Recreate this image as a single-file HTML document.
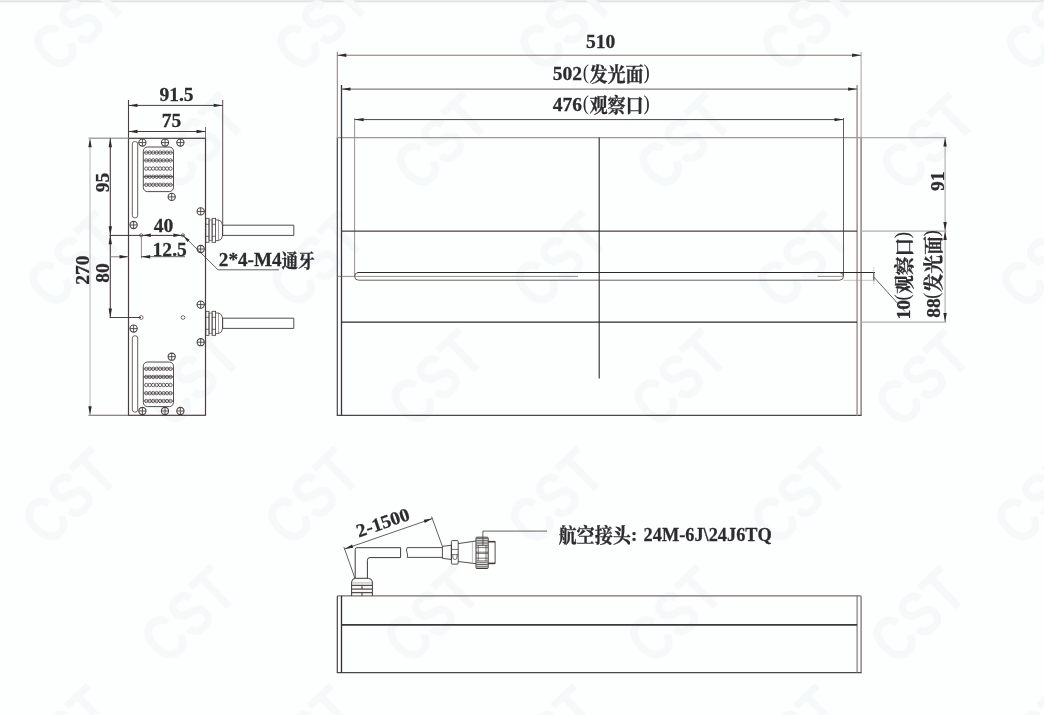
<!DOCTYPE html>
<html lang="zh"><head><meta charset="utf-8"><title>Dimension drawing</title>
<style>
html,body{margin:0;padding:0;background:#fdfefe;}
body{width:1044px;height:715px;overflow:hidden;position:relative;font-family:"Liberation Serif",serif;}
.topbar{position:absolute;left:0;top:0;width:1044px;height:4px;background:linear-gradient(#efefef,#e2e2e2 35%,#f4f5f5 60%,#fdfefe);}
svg{position:absolute;left:0;top:0;will-change:transform;}
</style></head><body>
<div class="topbar"></div>
<svg width="1044" height="715" viewBox="0 0 1044 715">
<g font-family="Liberation Sans, sans-serif" font-size="64" fill="#f5f9fa" font-weight="700">
<text transform="translate(-165.0 23.5) rotate(-44) scale(0.8 1)" text-anchor="middle" x="0.0" y="23.0" letter-spacing="0.0">CST</text>
<text transform="translate(78.0 23.5) rotate(-44) scale(0.8 1)" text-anchor="middle" x="0.0" y="23.0" letter-spacing="0.0">CST</text>
<text transform="translate(321.0 23.5) rotate(-44) scale(0.8 1)" text-anchor="middle" x="0.0" y="23.0" letter-spacing="0.0">CST</text>
<text transform="translate(564.0 23.5) rotate(-44) scale(0.8 1)" text-anchor="middle" x="0.0" y="23.0" letter-spacing="0.0">CST</text>
<text transform="translate(807.0 23.5) rotate(-44) scale(0.8 1)" text-anchor="middle" x="0.0" y="23.0" letter-spacing="0.0">CST</text>
<text transform="translate(1050.0 23.5) rotate(-44) scale(0.8 1)" text-anchor="middle" x="0.0" y="23.0" letter-spacing="0.0">CST</text>
<text transform="translate(1293.0 23.5) rotate(-44) scale(0.8 1)" text-anchor="middle" x="0.0" y="23.0" letter-spacing="0.0">CST</text>
<text transform="translate(-45.8 141.8) rotate(-44) scale(0.8 1)" text-anchor="middle" x="0.0" y="23.0" letter-spacing="0.0">CST</text>
<text transform="translate(197.2 141.8) rotate(-44) scale(0.8 1)" text-anchor="middle" x="0.0" y="23.0" letter-spacing="0.0">CST</text>
<text transform="translate(440.2 141.8) rotate(-44) scale(0.8 1)" text-anchor="middle" x="0.0" y="23.0" letter-spacing="0.0">CST</text>
<text transform="translate(683.2 141.8) rotate(-44) scale(0.8 1)" text-anchor="middle" x="0.0" y="23.0" letter-spacing="0.0">CST</text>
<text transform="translate(926.2 141.8) rotate(-44) scale(0.8 1)" text-anchor="middle" x="0.0" y="23.0" letter-spacing="0.0">CST</text>
<text transform="translate(1169.2 141.8) rotate(-44) scale(0.8 1)" text-anchor="middle" x="0.0" y="23.0" letter-spacing="0.0">CST</text>
<text transform="translate(1412.2 141.8) rotate(-44) scale(0.8 1)" text-anchor="middle" x="0.0" y="23.0" letter-spacing="0.0">CST</text>
<text transform="translate(-169.7 260.1) rotate(-44) scale(0.8 1)" text-anchor="middle" x="0.0" y="23.0" letter-spacing="0.0">CST</text>
<text transform="translate(73.3 260.1) rotate(-44) scale(0.8 1)" text-anchor="middle" x="0.0" y="23.0" letter-spacing="0.0">CST</text>
<text transform="translate(316.3 260.1) rotate(-44) scale(0.8 1)" text-anchor="middle" x="0.0" y="23.0" letter-spacing="0.0">CST</text>
<text transform="translate(559.3 260.1) rotate(-44) scale(0.8 1)" text-anchor="middle" x="0.0" y="23.0" letter-spacing="0.0">CST</text>
<text transform="translate(802.3 260.1) rotate(-44) scale(0.8 1)" text-anchor="middle" x="0.0" y="23.0" letter-spacing="0.0">CST</text>
<text transform="translate(1045.3 260.1) rotate(-44) scale(0.8 1)" text-anchor="middle" x="0.0" y="23.0" letter-spacing="0.0">CST</text>
<text transform="translate(1288.3 260.1) rotate(-44) scale(0.8 1)" text-anchor="middle" x="0.0" y="23.0" letter-spacing="0.0">CST</text>
<text transform="translate(-50.5 378.4) rotate(-44) scale(0.8 1)" text-anchor="middle" x="0.0" y="23.0" letter-spacing="0.0">CST</text>
<text transform="translate(192.5 378.4) rotate(-44) scale(0.8 1)" text-anchor="middle" x="0.0" y="23.0" letter-spacing="0.0">CST</text>
<text transform="translate(435.5 378.4) rotate(-44) scale(0.8 1)" text-anchor="middle" x="0.0" y="23.0" letter-spacing="0.0">CST</text>
<text transform="translate(678.5 378.4) rotate(-44) scale(0.8 1)" text-anchor="middle" x="0.0" y="23.0" letter-spacing="0.0">CST</text>
<text transform="translate(921.5 378.4) rotate(-44) scale(0.8 1)" text-anchor="middle" x="0.0" y="23.0" letter-spacing="0.0">CST</text>
<text transform="translate(1164.5 378.4) rotate(-44) scale(0.8 1)" text-anchor="middle" x="0.0" y="23.0" letter-spacing="0.0">CST</text>
<text transform="translate(1407.5 378.4) rotate(-44) scale(0.8 1)" text-anchor="middle" x="0.0" y="23.0" letter-spacing="0.0">CST</text>
<text transform="translate(-174.3 496.7) rotate(-44) scale(0.8 1)" text-anchor="middle" x="0.0" y="23.0" letter-spacing="0.0">CST</text>
<text transform="translate(68.7 496.7) rotate(-44) scale(0.8 1)" text-anchor="middle" x="0.0" y="23.0" letter-spacing="0.0">CST</text>
<text transform="translate(311.7 496.7) rotate(-44) scale(0.8 1)" text-anchor="middle" x="0.0" y="23.0" letter-spacing="0.0">CST</text>
<text transform="translate(554.7 496.7) rotate(-44) scale(0.8 1)" text-anchor="middle" x="0.0" y="23.0" letter-spacing="0.0">CST</text>
<text transform="translate(797.7 496.7) rotate(-44) scale(0.8 1)" text-anchor="middle" x="0.0" y="23.0" letter-spacing="0.0">CST</text>
<text transform="translate(1040.7 496.7) rotate(-44) scale(0.8 1)" text-anchor="middle" x="0.0" y="23.0" letter-spacing="0.0">CST</text>
<text transform="translate(1283.7 496.7) rotate(-44) scale(0.8 1)" text-anchor="middle" x="0.0" y="23.0" letter-spacing="0.0">CST</text>
<text transform="translate(-55.2 615.0) rotate(-44) scale(0.8 1)" text-anchor="middle" x="0.0" y="23.0" letter-spacing="0.0">CST</text>
<text transform="translate(187.8 615.0) rotate(-44) scale(0.8 1)" text-anchor="middle" x="0.0" y="23.0" letter-spacing="0.0">CST</text>
<text transform="translate(430.9 615.0) rotate(-44) scale(0.8 1)" text-anchor="middle" x="0.0" y="23.0" letter-spacing="0.0">CST</text>
<text transform="translate(673.9 615.0) rotate(-44) scale(0.8 1)" text-anchor="middle" x="0.0" y="23.0" letter-spacing="0.0">CST</text>
<text transform="translate(916.9 615.0) rotate(-44) scale(0.8 1)" text-anchor="middle" x="0.0" y="23.0" letter-spacing="0.0">CST</text>
<text transform="translate(1159.8 615.0) rotate(-44) scale(0.8 1)" text-anchor="middle" x="0.0" y="23.0" letter-spacing="0.0">CST</text>
<text transform="translate(1402.8 615.0) rotate(-44) scale(0.8 1)" text-anchor="middle" x="0.0" y="23.0" letter-spacing="0.0">CST</text>
<text transform="translate(-179.0 733.3) rotate(-44) scale(0.8 1)" text-anchor="middle" x="0.0" y="23.0" letter-spacing="0.0">CST</text>
<text transform="translate(64.0 733.3) rotate(-44) scale(0.8 1)" text-anchor="middle" x="0.0" y="23.0" letter-spacing="0.0">CST</text>
<text transform="translate(307.0 733.3) rotate(-44) scale(0.8 1)" text-anchor="middle" x="0.0" y="23.0" letter-spacing="0.0">CST</text>
<text transform="translate(550.0 733.3) rotate(-44) scale(0.8 1)" text-anchor="middle" x="0.0" y="23.0" letter-spacing="0.0">CST</text>
<text transform="translate(793.0 733.3) rotate(-44) scale(0.8 1)" text-anchor="middle" x="0.0" y="23.0" letter-spacing="0.0">CST</text>
<text transform="translate(1036.0 733.3) rotate(-44) scale(0.8 1)" text-anchor="middle" x="0.0" y="23.0" letter-spacing="0.0">CST</text>
<text transform="translate(1279.0 733.3) rotate(-44) scale(0.8 1)" text-anchor="middle" x="0.0" y="23.0" letter-spacing="0.0">CST</text>
<text transform="translate(-59.8 851.6) rotate(-44) scale(0.8 1)" text-anchor="middle" x="0.0" y="23.0" letter-spacing="0.0">CST</text>
<text transform="translate(183.2 851.6) rotate(-44) scale(0.8 1)" text-anchor="middle" x="0.0" y="23.0" letter-spacing="0.0">CST</text>
<text transform="translate(426.2 851.6) rotate(-44) scale(0.8 1)" text-anchor="middle" x="0.0" y="23.0" letter-spacing="0.0">CST</text>
<text transform="translate(669.2 851.6) rotate(-44) scale(0.8 1)" text-anchor="middle" x="0.0" y="23.0" letter-spacing="0.0">CST</text>
<text transform="translate(912.2 851.6) rotate(-44) scale(0.8 1)" text-anchor="middle" x="0.0" y="23.0" letter-spacing="0.0">CST</text>
<text transform="translate(1155.2 851.6) rotate(-44) scale(0.8 1)" text-anchor="middle" x="0.0" y="23.0" letter-spacing="0.0">CST</text>
<text transform="translate(1398.2 851.6) rotate(-44) scale(0.8 1)" text-anchor="middle" x="0.0" y="23.0" letter-spacing="0.0">CST</text>
</g>
<g font-family="Liberation Serif, serif" font-weight="700">
<rect x="128.5" y="138.3" width="77" height="277" rx="0" stroke="#4a3e40" stroke-width="1.2" fill="none"/>
<line x1="128.5" y1="100" x2="128.5" y2="138.3" stroke="#4a3e40" stroke-width="1.1" />
<line x1="222.7" y1="100" x2="222.7" y2="236" stroke="#5a4e50" stroke-width="1.0" />
<line x1="205.5" y1="127" x2="205.5" y2="138.3" stroke="#6a5e5e" stroke-width="0.9" />
<line x1="128.5" y1="105.4" x2="222.7" y2="105.4" stroke="#4a3e40" stroke-width="1.0" />
<polygon points="128.5,105.4 137.5,103.7 137.5,107.1" fill="#2f2b2b"/>
<polygon points="222.7,105.4 213.7,107.1 213.7,103.7" fill="#2f2b2b"/>
<line x1="128.5" y1="131.5" x2="205.5" y2="131.5" stroke="#4a3e40" stroke-width="1.0" />
<polygon points="128.5,131.5 137.5,129.8 137.5,133.2" fill="#2f2b2b"/>
<polygon points="205.5,131.5 196.5,133.2 196.5,129.8" fill="#2f2b2b"/>
<g transform="translate(176.5 100.8)" fill="#2d2b2f"><title>91.5</title>
<text transform="translate(-17.09 0) scale(1.05 1)" font-size="18.6" stroke="#2d2b2f" stroke-width="0.25" xml:space="preserve">91.5</text>
</g>
<g transform="translate(171.5 127)" fill="#2d2b2f"><title>75</title>
<text transform="translate(-9.77 0) scale(1.05 1)" font-size="18.6" stroke="#2d2b2f" stroke-width="0.25" xml:space="preserve">75</text>
</g>
<line x1="88.5" y1="138.3" x2="128.5" y2="138.3" stroke="#a8a4a4" stroke-width="1.4" />
<line x1="88.5" y1="415.3" x2="128.5" y2="415.3" stroke="#6a5e5e" stroke-width="1.1" />
<line x1="90" y1="138.3" x2="90" y2="415.3" stroke="#c4c2c6" stroke-width="1.2" />
<polygon points="90,138.3 91.7,147.3 88.3,147.3" fill="#2f2b2b"/>
<polygon points="90,415.3 88.3,406.3 91.7,406.3" fill="#2f2b2b"/>
<line x1="110.3" y1="138.3" x2="110.3" y2="317.5" stroke="#4a3e40" stroke-width="1.1" />
<polygon points="110.3,138.3 112,147.3 108.6,147.3" fill="#2f2b2b"/>
<polygon points="110.3,235.3 108.6,226.3 112,226.3" fill="#2f2b2b"/>
<polygon points="110.3,235.3 112,244.3 108.6,244.3" fill="#2f2b2b"/>
<polygon points="110.3,317.5 108.6,308.5 112,308.5" fill="#2f2b2b"/>
<line x1="109.6" y1="235.4" x2="184" y2="235.4" stroke="#3a3032" stroke-width="1.0" />
<line x1="109.6" y1="317.5" x2="141" y2="317.5" stroke="#4a3e40" stroke-width="1.0" />
<g transform="translate(109 182.6) rotate(-90)" fill="#2d2b2f"><title>95</title>
<text transform="translate(-9.77 0) scale(1.05 1)" font-size="18.6" stroke="#2d2b2f" stroke-width="0.25" xml:space="preserve">95</text>
</g>
<g transform="translate(88.6 270.2) rotate(-90)" fill="#2d2b2f"><title>270</title>
<text transform="translate(-14.65 0) scale(1.05 1)" font-size="18.6" stroke="#2d2b2f" stroke-width="0.25" xml:space="preserve">270</text>
</g>
<g transform="translate(109 272.9) rotate(-90)" fill="#2d2b2f"><title>80</title>
<text transform="translate(-9.77 0) scale(1.05 1)" font-size="18.6" stroke="#2d2b2f" stroke-width="0.25" xml:space="preserve">80</text>
</g>
<circle cx="141.2" cy="235.3" r="1.6" stroke="#403939" stroke-width="0.7" fill="none"/>
<circle cx="141.2" cy="317.5" r="1.9" stroke="#403939" stroke-width="0.7" fill="none"/>
<circle cx="183" cy="235.3" r="1.6" stroke="#403939" stroke-width="0.7" fill="none"/>
<circle cx="183" cy="317.5" r="1.9" stroke="#403939" stroke-width="0.7" fill="none"/>
<polygon points="142.8,235.3 150.8,233.6 150.8,237" fill="#2f2b2b"/>
<polygon points="181.4,235.3 173.4,237 173.4,233.6" fill="#2f2b2b"/>
<g transform="translate(163.5 231.6)" fill="#2d2b2f"><title>40</title>
<text transform="translate(-9.77 0) scale(1.05 1)" font-size="18.6" stroke="#2d2b2f" stroke-width="0.25" xml:space="preserve">40</text>
</g>
<line x1="141.4" y1="235.3" x2="141.4" y2="258.5" stroke="#8a7a7a" stroke-width="0.9" />
<line x1="110.3" y1="256.8" x2="128.5" y2="256.8" stroke="#8a7a7a" stroke-width="1.0" />
<polygon points="128.5,256.7 119.5,258.4 119.5,255" fill="#2f2b2b"/>
<line x1="141.2" y1="256.7" x2="185" y2="256.7" stroke="#403939" stroke-width="0.8" />
<polygon points="141.2,256.7 150.2,255 150.2,258.4" fill="#2f2b2b"/>
<g transform="translate(169.7 255.8)" fill="#2d2b2f"><title>12.5</title>
<text transform="translate(-17.09 0) scale(1.05 1)" font-size="18.6" stroke="#2d2b2f" stroke-width="0.25" xml:space="preserve">12.5</text>
</g>
<path d="M183 235.3 L218 269.8 L279 269.8" stroke="#403939" stroke-width="0.8" fill="none" />
<polygon points="183.6,235.9 189.61,239.79 187.49,241.91" fill="#2f2b2b"/>
<g transform="translate(218.8 266)" fill="#2d2b2f"><title>2*4-M4通牙</title>
<text transform="translate(0 0) scale(1.03 1)" font-size="18.6" stroke="#2d2b2f" stroke-width="0.25" xml:space="preserve">2*4-M4</text>
<text transform="translate(62.78 1.5) scale(0.86 1)" font-size="19.4" font-family="'Liberation Serif', 'Noto Serif CJK SC', serif" stroke="#2d2b2f" stroke-width="0.3">通牙</text>
</g>
<circle cx="142.4" cy="142.6" r="3.6" stroke="#4a4242" stroke-width="1.1" fill="none"/>
<line x1="138.8" y1="142.6" x2="146" y2="142.6" stroke="#4a4242" stroke-width="0.9" />
<line x1="142.4" y1="139" x2="142.4" y2="146.2" stroke="#4a4242" stroke-width="0.9" />
<circle cx="165" cy="142.6" r="3.6" stroke="#4a4242" stroke-width="1.1" fill="none"/>
<line x1="161.4" y1="142.6" x2="168.6" y2="142.6" stroke="#4a4242" stroke-width="0.9" />
<line x1="165" y1="139" x2="165" y2="146.2" stroke="#4a4242" stroke-width="0.9" />
<circle cx="180.4" cy="142.6" r="3.6" stroke="#4a4242" stroke-width="1.1" fill="none"/>
<line x1="176.8" y1="142.6" x2="184" y2="142.6" stroke="#4a4242" stroke-width="0.9" />
<line x1="180.4" y1="139" x2="180.4" y2="146.2" stroke="#4a4242" stroke-width="0.9" />
<circle cx="171.7" cy="196.9" r="3.6" stroke="#4a4242" stroke-width="1.1" fill="none"/>
<line x1="168.1" y1="196.9" x2="175.3" y2="196.9" stroke="#4a4242" stroke-width="0.9" />
<line x1="171.7" y1="193.3" x2="171.7" y2="200.5" stroke="#4a4242" stroke-width="0.9" />
<circle cx="133.6" cy="225" r="3.6" stroke="#4a4242" stroke-width="1.1" fill="none"/>
<line x1="130" y1="225" x2="137.2" y2="225" stroke="#4a4242" stroke-width="0.9" />
<line x1="133.6" y1="221.4" x2="133.6" y2="228.6" stroke="#4a4242" stroke-width="0.9" />
<circle cx="200.7" cy="211.4" r="3.6" stroke="#4a4242" stroke-width="1.1" fill="none"/>
<line x1="197.1" y1="211.4" x2="204.3" y2="211.4" stroke="#4a4242" stroke-width="0.9" />
<line x1="200.7" y1="207.8" x2="200.7" y2="215" stroke="#4a4242" stroke-width="0.9" />
<circle cx="200.7" cy="249" r="3.6" stroke="#4a4242" stroke-width="1.1" fill="none"/>
<line x1="197.1" y1="249" x2="204.3" y2="249" stroke="#4a4242" stroke-width="0.9" />
<line x1="200.7" y1="245.4" x2="200.7" y2="252.6" stroke="#4a4242" stroke-width="0.9" />
<rect x="132.3" y="141.5" width="5.4" height="76.3" rx="2.4" stroke="#403939" stroke-width="0.8" fill="none"/>
<rect x="143.3" y="147" width="30.2" height="44.6" rx="4.2" stroke="#403939" stroke-width="0.9" fill="none"/>
<circle cx="146.3" cy="152.6" r="1.7" stroke="#4a4042" stroke-width="0.8" fill="none"/>
<circle cx="149.76" cy="152.6" r="1.7" stroke="#4a4042" stroke-width="0.8" fill="none"/>
<circle cx="153.22" cy="152.6" r="1.7" stroke="#4a4042" stroke-width="0.8" fill="none"/>
<circle cx="156.68" cy="152.6" r="1.7" stroke="#4a4042" stroke-width="0.8" fill="none"/>
<circle cx="160.14" cy="152.6" r="1.7" stroke="#4a4042" stroke-width="0.8" fill="none"/>
<circle cx="163.6" cy="152.6" r="1.7" stroke="#4a4042" stroke-width="0.8" fill="none"/>
<circle cx="167.06" cy="152.6" r="1.7" stroke="#4a4042" stroke-width="0.8" fill="none"/>
<circle cx="170.52" cy="152.6" r="1.7" stroke="#4a4042" stroke-width="0.8" fill="none"/>
<line x1="143.4" y1="152.6" x2="173.4" y2="152.6" stroke="#4a4042" stroke-width="0.6" />
<circle cx="146.3" cy="160.4" r="1.7" stroke="#4a4042" stroke-width="0.8" fill="none"/>
<circle cx="149.76" cy="160.4" r="1.7" stroke="#4a4042" stroke-width="0.8" fill="none"/>
<circle cx="153.22" cy="160.4" r="1.7" stroke="#4a4042" stroke-width="0.8" fill="none"/>
<circle cx="156.68" cy="160.4" r="1.7" stroke="#4a4042" stroke-width="0.8" fill="none"/>
<circle cx="160.14" cy="160.4" r="1.7" stroke="#4a4042" stroke-width="0.8" fill="none"/>
<circle cx="163.6" cy="160.4" r="1.7" stroke="#4a4042" stroke-width="0.8" fill="none"/>
<circle cx="167.06" cy="160.4" r="1.7" stroke="#4a4042" stroke-width="0.8" fill="none"/>
<circle cx="170.52" cy="160.4" r="1.7" stroke="#4a4042" stroke-width="0.8" fill="none"/>
<line x1="143.4" y1="160.4" x2="173.4" y2="160.4" stroke="#4a4042" stroke-width="0.6" />
<circle cx="146.3" cy="168.6" r="1.7" stroke="#4a4042" stroke-width="0.8" fill="none"/>
<circle cx="149.76" cy="168.6" r="1.7" stroke="#4a4042" stroke-width="0.8" fill="none"/>
<circle cx="153.22" cy="168.6" r="1.7" stroke="#4a4042" stroke-width="0.8" fill="none"/>
<circle cx="156.68" cy="168.6" r="1.7" stroke="#4a4042" stroke-width="0.8" fill="none"/>
<circle cx="160.14" cy="168.6" r="1.7" stroke="#4a4042" stroke-width="0.8" fill="none"/>
<circle cx="163.6" cy="168.6" r="1.7" stroke="#4a4042" stroke-width="0.8" fill="none"/>
<circle cx="167.06" cy="168.6" r="1.7" stroke="#4a4042" stroke-width="0.8" fill="none"/>
<circle cx="170.52" cy="168.6" r="1.7" stroke="#4a4042" stroke-width="0.8" fill="none"/>
<circle cx="146.3" cy="176.7" r="1.7" stroke="#4a4042" stroke-width="0.8" fill="none"/>
<circle cx="149.76" cy="176.7" r="1.7" stroke="#4a4042" stroke-width="0.8" fill="none"/>
<circle cx="153.22" cy="176.7" r="1.7" stroke="#4a4042" stroke-width="0.8" fill="none"/>
<circle cx="156.68" cy="176.7" r="1.7" stroke="#4a4042" stroke-width="0.8" fill="none"/>
<circle cx="160.14" cy="176.7" r="1.7" stroke="#4a4042" stroke-width="0.8" fill="none"/>
<circle cx="163.6" cy="176.7" r="1.7" stroke="#4a4042" stroke-width="0.8" fill="none"/>
<circle cx="167.06" cy="176.7" r="1.7" stroke="#4a4042" stroke-width="0.8" fill="none"/>
<circle cx="170.52" cy="176.7" r="1.7" stroke="#4a4042" stroke-width="0.8" fill="none"/>
<line x1="143.4" y1="176.7" x2="173.4" y2="176.7" stroke="#4a4042" stroke-width="1.0" />
<circle cx="146.3" cy="184.8" r="1.7" stroke="#4a4042" stroke-width="0.8" fill="none"/>
<circle cx="149.76" cy="184.8" r="1.7" stroke="#4a4042" stroke-width="0.8" fill="none"/>
<circle cx="153.22" cy="184.8" r="1.7" stroke="#4a4042" stroke-width="0.8" fill="none"/>
<circle cx="156.68" cy="184.8" r="1.7" stroke="#4a4042" stroke-width="0.8" fill="none"/>
<circle cx="160.14" cy="184.8" r="1.7" stroke="#4a4042" stroke-width="0.8" fill="none"/>
<circle cx="163.6" cy="184.8" r="1.7" stroke="#4a4042" stroke-width="0.8" fill="none"/>
<circle cx="167.06" cy="184.8" r="1.7" stroke="#4a4042" stroke-width="0.8" fill="none"/>
<circle cx="170.52" cy="184.8" r="1.7" stroke="#4a4042" stroke-width="0.8" fill="none"/>
<line x1="143.4" y1="184.8" x2="173.4" y2="184.8" stroke="#4a4042" stroke-width="0.6" />
<rect x="205.8" y="218.3" width="3.2" height="24" rx="0" stroke="#403939" stroke-width="0.8" fill="none"/>
<line x1="205.8" y1="224.3" x2="209" y2="224.3" stroke="#403939" stroke-width="0.7" />
<line x1="205.8" y1="236.3" x2="209" y2="236.3" stroke="#403939" stroke-width="0.7" />
<rect x="209" y="220" width="3.1" height="20.6" rx="0" stroke="#403939" stroke-width="0.6" fill="none"/>
<rect x="212.1" y="218.3" width="3.5" height="24" rx="0" stroke="#403939" stroke-width="0.8" fill="none"/>
<line x1="212.1" y1="224.3" x2="215.6" y2="224.3" stroke="#403939" stroke-width="0.7" />
<line x1="212.1" y1="236.3" x2="215.6" y2="236.3" stroke="#403939" stroke-width="0.7" />
<path d="M215.6 220 L218.5 220 Q222.3 220.8 222.5 225.1 L222.5 235.5 Q222.3 239.8 218.5 240.6 L215.6 240.6" stroke="#403939" stroke-width="0.8" fill="none" />
<line x1="218.5" y1="220" x2="218.5" y2="240.6" stroke="#403939" stroke-width="0.5" />
<path d="M222.7 225.2 L293.8 225.2 L293.8 235.4 L222.7 235.4" stroke="#403939" stroke-width="0.9" fill="none" />
<circle cx="142.4" cy="411" r="3.6" stroke="#4a4242" stroke-width="1.1" fill="none"/>
<line x1="138.8" y1="411" x2="146" y2="411" stroke="#4a4242" stroke-width="0.9" />
<line x1="142.4" y1="407.4" x2="142.4" y2="414.6" stroke="#4a4242" stroke-width="0.9" />
<circle cx="165" cy="411" r="3.6" stroke="#4a4242" stroke-width="1.1" fill="none"/>
<line x1="161.4" y1="411" x2="168.6" y2="411" stroke="#4a4242" stroke-width="0.9" />
<line x1="165" y1="407.4" x2="165" y2="414.6" stroke="#4a4242" stroke-width="0.9" />
<circle cx="180.4" cy="411" r="3.6" stroke="#4a4242" stroke-width="1.1" fill="none"/>
<line x1="176.8" y1="411" x2="184" y2="411" stroke="#4a4242" stroke-width="0.9" />
<line x1="180.4" y1="407.4" x2="180.4" y2="414.6" stroke="#4a4242" stroke-width="0.9" />
<circle cx="171.7" cy="356.7" r="3.6" stroke="#4a4242" stroke-width="1.1" fill="none"/>
<line x1="168.1" y1="356.7" x2="175.3" y2="356.7" stroke="#4a4242" stroke-width="0.9" />
<line x1="171.7" y1="353.1" x2="171.7" y2="360.3" stroke="#4a4242" stroke-width="0.9" />
<circle cx="133.6" cy="328.6" r="3.6" stroke="#4a4242" stroke-width="1.1" fill="none"/>
<line x1="130" y1="328.6" x2="137.2" y2="328.6" stroke="#4a4242" stroke-width="0.9" />
<line x1="133.6" y1="325" x2="133.6" y2="332.2" stroke="#4a4242" stroke-width="0.9" />
<circle cx="200.7" cy="342.2" r="3.6" stroke="#4a4242" stroke-width="1.1" fill="none"/>
<line x1="197.1" y1="342.2" x2="204.3" y2="342.2" stroke="#4a4242" stroke-width="0.9" />
<line x1="200.7" y1="338.6" x2="200.7" y2="345.8" stroke="#4a4242" stroke-width="0.9" />
<circle cx="200.7" cy="304.6" r="3.6" stroke="#4a4242" stroke-width="1.1" fill="none"/>
<line x1="197.1" y1="304.6" x2="204.3" y2="304.6" stroke="#4a4242" stroke-width="0.9" />
<line x1="200.7" y1="301" x2="200.7" y2="308.2" stroke="#4a4242" stroke-width="0.9" />
<rect x="132.3" y="335.8" width="5.4" height="76.3" rx="2.4" stroke="#403939" stroke-width="0.8" fill="none"/>
<rect x="143.3" y="362" width="30.2" height="44.6" rx="4.2" stroke="#403939" stroke-width="0.9" fill="none"/>
<circle cx="146.3" cy="401" r="1.7" stroke="#4a4042" stroke-width="0.8" fill="none"/>
<circle cx="149.76" cy="401" r="1.7" stroke="#4a4042" stroke-width="0.8" fill="none"/>
<circle cx="153.22" cy="401" r="1.7" stroke="#4a4042" stroke-width="0.8" fill="none"/>
<circle cx="156.68" cy="401" r="1.7" stroke="#4a4042" stroke-width="0.8" fill="none"/>
<circle cx="160.14" cy="401" r="1.7" stroke="#4a4042" stroke-width="0.8" fill="none"/>
<circle cx="163.6" cy="401" r="1.7" stroke="#4a4042" stroke-width="0.8" fill="none"/>
<circle cx="167.06" cy="401" r="1.7" stroke="#4a4042" stroke-width="0.8" fill="none"/>
<circle cx="170.52" cy="401" r="1.7" stroke="#4a4042" stroke-width="0.8" fill="none"/>
<line x1="143.4" y1="401" x2="173.4" y2="401" stroke="#4a4042" stroke-width="0.6" />
<circle cx="146.3" cy="393.2" r="1.7" stroke="#4a4042" stroke-width="0.8" fill="none"/>
<circle cx="149.76" cy="393.2" r="1.7" stroke="#4a4042" stroke-width="0.8" fill="none"/>
<circle cx="153.22" cy="393.2" r="1.7" stroke="#4a4042" stroke-width="0.8" fill="none"/>
<circle cx="156.68" cy="393.2" r="1.7" stroke="#4a4042" stroke-width="0.8" fill="none"/>
<circle cx="160.14" cy="393.2" r="1.7" stroke="#4a4042" stroke-width="0.8" fill="none"/>
<circle cx="163.6" cy="393.2" r="1.7" stroke="#4a4042" stroke-width="0.8" fill="none"/>
<circle cx="167.06" cy="393.2" r="1.7" stroke="#4a4042" stroke-width="0.8" fill="none"/>
<circle cx="170.52" cy="393.2" r="1.7" stroke="#4a4042" stroke-width="0.8" fill="none"/>
<line x1="143.4" y1="393.2" x2="173.4" y2="393.2" stroke="#4a4042" stroke-width="0.6" />
<circle cx="146.3" cy="385" r="1.7" stroke="#4a4042" stroke-width="0.8" fill="none"/>
<circle cx="149.76" cy="385" r="1.7" stroke="#4a4042" stroke-width="0.8" fill="none"/>
<circle cx="153.22" cy="385" r="1.7" stroke="#4a4042" stroke-width="0.8" fill="none"/>
<circle cx="156.68" cy="385" r="1.7" stroke="#4a4042" stroke-width="0.8" fill="none"/>
<circle cx="160.14" cy="385" r="1.7" stroke="#4a4042" stroke-width="0.8" fill="none"/>
<circle cx="163.6" cy="385" r="1.7" stroke="#4a4042" stroke-width="0.8" fill="none"/>
<circle cx="167.06" cy="385" r="1.7" stroke="#4a4042" stroke-width="0.8" fill="none"/>
<circle cx="170.52" cy="385" r="1.7" stroke="#4a4042" stroke-width="0.8" fill="none"/>
<circle cx="146.3" cy="376.9" r="1.7" stroke="#4a4042" stroke-width="0.8" fill="none"/>
<circle cx="149.76" cy="376.9" r="1.7" stroke="#4a4042" stroke-width="0.8" fill="none"/>
<circle cx="153.22" cy="376.9" r="1.7" stroke="#4a4042" stroke-width="0.8" fill="none"/>
<circle cx="156.68" cy="376.9" r="1.7" stroke="#4a4042" stroke-width="0.8" fill="none"/>
<circle cx="160.14" cy="376.9" r="1.7" stroke="#4a4042" stroke-width="0.8" fill="none"/>
<circle cx="163.6" cy="376.9" r="1.7" stroke="#4a4042" stroke-width="0.8" fill="none"/>
<circle cx="167.06" cy="376.9" r="1.7" stroke="#4a4042" stroke-width="0.8" fill="none"/>
<circle cx="170.52" cy="376.9" r="1.7" stroke="#4a4042" stroke-width="0.8" fill="none"/>
<line x1="143.4" y1="376.9" x2="173.4" y2="376.9" stroke="#4a4042" stroke-width="1.0" />
<circle cx="146.3" cy="368.8" r="1.7" stroke="#4a4042" stroke-width="0.8" fill="none"/>
<circle cx="149.76" cy="368.8" r="1.7" stroke="#4a4042" stroke-width="0.8" fill="none"/>
<circle cx="153.22" cy="368.8" r="1.7" stroke="#4a4042" stroke-width="0.8" fill="none"/>
<circle cx="156.68" cy="368.8" r="1.7" stroke="#4a4042" stroke-width="0.8" fill="none"/>
<circle cx="160.14" cy="368.8" r="1.7" stroke="#4a4042" stroke-width="0.8" fill="none"/>
<circle cx="163.6" cy="368.8" r="1.7" stroke="#4a4042" stroke-width="0.8" fill="none"/>
<circle cx="167.06" cy="368.8" r="1.7" stroke="#4a4042" stroke-width="0.8" fill="none"/>
<circle cx="170.52" cy="368.8" r="1.7" stroke="#4a4042" stroke-width="0.8" fill="none"/>
<line x1="143.4" y1="368.8" x2="173.4" y2="368.8" stroke="#4a4042" stroke-width="0.6" />
<rect x="205.8" y="311.3" width="3.2" height="24" rx="0" stroke="#403939" stroke-width="0.8" fill="none"/>
<line x1="205.8" y1="317.3" x2="209" y2="317.3" stroke="#403939" stroke-width="0.7" />
<line x1="205.8" y1="329.3" x2="209" y2="329.3" stroke="#403939" stroke-width="0.7" />
<rect x="209" y="313" width="3.1" height="20.6" rx="0" stroke="#403939" stroke-width="0.6" fill="none"/>
<rect x="212.1" y="311.3" width="3.5" height="24" rx="0" stroke="#403939" stroke-width="0.8" fill="none"/>
<line x1="212.1" y1="317.3" x2="215.6" y2="317.3" stroke="#403939" stroke-width="0.7" />
<line x1="212.1" y1="329.3" x2="215.6" y2="329.3" stroke="#403939" stroke-width="0.7" />
<path d="M215.6 313 L218.5 313 Q222.3 313.8 222.5 318.1 L222.5 328.5 Q222.3 332.8 218.5 333.6 L215.6 333.6" stroke="#403939" stroke-width="0.8" fill="none" />
<line x1="218.5" y1="313" x2="218.5" y2="333.6" stroke="#403939" stroke-width="0.5" />
<path d="M222.7 318.2 L293.8 318.2 L293.8 328.4 L222.7 328.4" stroke="#403939" stroke-width="0.9" fill="none" />
<line x1="222.7" y1="318" x2="222.7" y2="328.5" stroke="#403939" stroke-width="0.8" />
<line x1="337.3" y1="51.8" x2="337.3" y2="137.6" stroke="#8a7a7a" stroke-width="1.0" />
<line x1="337.3" y1="137.6" x2="337.3" y2="415.4" stroke="#4a464a" stroke-width="1.2" />
<line x1="861.1" y1="51.8" x2="861.1" y2="137.6" stroke="#aaa2a2" stroke-width="1.0" />
<line x1="861.1" y1="137.6" x2="861.1" y2="415.4" stroke="#8f8282" stroke-width="1.5" />
<line x1="337.3" y1="137.6" x2="861.1" y2="137.6" stroke="#a09898" stroke-width="1.4" />
<line x1="336.8" y1="415.4" x2="861.6" y2="415.4" stroke="#4a464a" stroke-width="1.2" />
<line x1="341.5" y1="85" x2="341.5" y2="415.4" stroke="#38363c" stroke-width="1.3" />
<line x1="857.1" y1="85" x2="857.1" y2="415.4" stroke="#a89a9a" stroke-width="1.6" />
<line x1="354.6" y1="118" x2="354.6" y2="276" stroke="#9a9294" stroke-width="1.0" />
<line x1="843.5" y1="118" x2="843.5" y2="276" stroke="#55484a" stroke-width="0.9" />
<line x1="341.5" y1="231.1" x2="857.1" y2="231.1" stroke="#4a3e40" stroke-width="1.1" />
<line x1="341.5" y1="322.1" x2="857.1" y2="322.1" stroke="#2c2a2c" stroke-width="1.2" />
<line x1="599.2" y1="137.6" x2="599.2" y2="378.4" stroke="#2c2a2c" stroke-width="1.1" />
<line x1="337.3" y1="55.2" x2="861.1" y2="55.2" stroke="#857575" stroke-width="1.1" />
<polygon points="337.3,55.2 346.3,53.5 346.3,56.9" fill="#2f2b2b"/>
<polygon points="861.1,55.2 852.1,56.9 852.1,53.5" fill="#2f2b2b"/>
<line x1="341.5" y1="89.1" x2="857.1" y2="89.1" stroke="#6a5c5c" stroke-width="1.0" />
<polygon points="341.5,89.1 350.5,87.4 350.5,90.8" fill="#2f2b2b"/>
<polygon points="857.1,89.1 848.1,90.8 848.1,87.4" fill="#2f2b2b"/>
<line x1="354.6" y1="119.6" x2="843.5" y2="119.6" stroke="#4a4444" stroke-width="1.0" />
<polygon points="354.6,119.6 363.6,117.9 363.6,121.3" fill="#2f2b2b"/>
<polygon points="843.5,119.6 834.5,121.3 834.5,117.9" fill="#2f2b2b"/>
<g transform="translate(600.6 48.2)" fill="#2d2b2f"><title>510</title>
<text transform="translate(-14.65 0) scale(1.05 1)" font-size="18.6" stroke="#2d2b2f" stroke-width="0.25" xml:space="preserve">510</text>
</g>
<g transform="translate(552.8 80.3)" fill="#2d2b2f"><title>502(发光面)</title>
<text transform="translate(0 0) scale(1.05 1)" font-size="18.6" stroke="#2d2b2f" stroke-width="0.25" xml:space="preserve">502</text>
<text transform="translate(29.9 -1.5) scale(0.85 1)" font-size="22" font-weight="400">(</text>
<text transform="translate(36.59 1.5) scale(0.88 1)" font-size="20.6" font-family="'Liberation Serif', 'Noto Serif CJK SC', serif" stroke="#2d2b2f" stroke-width="0.3">发光面</text>
<text transform="translate(90.68 -1.5) scale(0.85 1)" font-size="22" font-weight="400">)</text>
</g>
<g transform="translate(552.8 111)" fill="#2d2b2f"><title>476(观察口)</title>
<text transform="translate(0 0) scale(1.05 1)" font-size="18.6" stroke="#2d2b2f" stroke-width="0.25" xml:space="preserve">476</text>
<text transform="translate(29.9 -1.5) scale(0.85 1)" font-size="22" font-weight="400">(</text>
<text transform="translate(36.59 1.5) scale(0.88 1)" font-size="20.6" font-family="'Liberation Serif', 'Noto Serif CJK SC', serif" stroke="#2d2b2f" stroke-width="0.3">观察口</text>
<text transform="translate(90.68 -1.5) scale(0.85 1)" font-size="22" font-weight="400">)</text>
</g>
<path d="M839.5 272.5 L358.6 272.5 Q354.6 272.5 354.6 276.3 Q354.6 280.2 358.6 280.2 L839.5 280.2 Q843.5 280.2 843.5 276.3 Q843.5 272.5 839.5 272.5" stroke="#403939" stroke-width="0.8" fill="none" />
<line x1="357.6" y1="272.5" x2="875" y2="272.5" stroke="#2c2828" stroke-width="1.0" />
<line x1="843.5" y1="280.3" x2="875" y2="280.3" stroke="#8a8484" stroke-width="0.5" />
<line x1="337.3" y1="276.4" x2="578" y2="276.4" stroke="#6a5a5a" stroke-width="0.7" />
<line x1="817.6" y1="276.4" x2="843.5" y2="276.4" stroke="#6a5a5a" stroke-width="0.7" />
<line x1="861.1" y1="137.6" x2="946.3" y2="137.6" stroke="#b0acac" stroke-width="1.2" />
<line x1="861.1" y1="231.1" x2="946.3" y2="231.1" stroke="#b0acac" stroke-width="1.2" />
<line x1="861.1" y1="322.1" x2="946.3" y2="322.1" stroke="#b0acac" stroke-width="1.2" />
<line x1="945.1" y1="137.6" x2="945.1" y2="322.1" stroke="#a6a2a2" stroke-width="1.0" />
<polygon points="945.1,137.6 946.8,146.6 943.4,146.6" fill="#2f2b2b"/>
<polygon points="945.1,231.1 943.4,222.1 946.8,222.1" fill="#2f2b2b"/>
<polygon points="945.1,231.1 946.8,240.1 943.4,240.1" fill="#2f2b2b"/>
<polygon points="945.1,322.1 943.4,313.1 946.8,313.1" fill="#2f2b2b"/>
<g transform="translate(943.6 181.3) rotate(-90)" fill="#2d2b2f"><title>91</title>
<text transform="translate(-9.77 0) scale(1.05 1)" font-size="18.6" stroke="#2d2b2f" stroke-width="0.25" xml:space="preserve">91</text>
</g>
<g transform="translate(939.7 317.7) rotate(-90)" fill="#2d2b2f"><title>88(发光面)</title>
<text transform="translate(0 0) scale(1.05 1)" font-size="18.6" stroke="#2d2b2f" stroke-width="0.25" xml:space="preserve">88</text>
<text transform="translate(18.93 -1.5) scale(0.85 1)" font-size="22" font-weight="400">(</text>
<text transform="translate(25.63 1.5) scale(0.905 1)" font-size="20.6" font-family="'Liberation Serif', 'Noto Serif CJK SC', serif" stroke="#2d2b2f" stroke-width="0.3">发光面</text>
<text transform="translate(81.26 -1.5) scale(0.85 1)" font-size="22" font-weight="400">)</text>
</g>
<g transform="translate(910.1 319.5) rotate(-90)" fill="#2d2b2f"><title>10(观察口)</title>
<text transform="translate(0 0) scale(1.05 1)" font-size="18.6" stroke="#2d2b2f" stroke-width="0.25" xml:space="preserve">10</text>
<text transform="translate(18.93 -1.5) scale(0.85 1)" font-size="22" font-weight="400">(</text>
<text transform="translate(25.63 1.5) scale(0.905 1)" font-size="20.6" font-family="'Liberation Serif', 'Noto Serif CJK SC', serif" stroke="#2d2b2f" stroke-width="0.3">观察口</text>
<text transform="translate(81.26 -1.5) scale(0.85 1)" font-size="22" font-weight="400">)</text>
</g>
<line x1="873.8" y1="267.5" x2="873.8" y2="285.5" stroke="#9a9494" stroke-width="0.7" stroke-dasharray="1.2 1"/>
<line x1="873.8" y1="272.5" x2="873.8" y2="280.3" stroke="#403939" stroke-width="0.9" />
<line x1="873.8" y1="277" x2="905" y2="311.5" stroke="#403939" stroke-width="0.8" />
<path d="M337.3 672.6 L337.3 596.8 Q337.3 595.8 338.3 595.8" stroke="#4a4448" stroke-width="1.2" fill="none" />
<path d="M338.3 595.8 L860.1 595.8" stroke="#7a6c6c" stroke-width="1.2" fill="none" />
<path d="M860.1 595.8 Q861.1 595.8 861.1 596.8 L861.1 672.6" stroke="#7d7274" stroke-width="1.3" fill="none" />
<line x1="336.8" y1="672.6" x2="861.6" y2="672.6" stroke="#4a464a" stroke-width="1.1" />
<line x1="341.5" y1="595.8" x2="341.5" y2="672.6" stroke="#2e2c30" stroke-width="1.3" />
<line x1="857.1" y1="595.8" x2="857.1" y2="672.6" stroke="#8c8284" stroke-width="1.3" />
<line x1="341.5" y1="624.8" x2="857.1" y2="624.8" stroke="#3a383c" stroke-width="1.7" />
<path d="M351.6 596 L351.6 582 Q351.8 578.5 355.6 578.3 L368.4 578.3 Q372.2 578.5 372.4 582 L372.4 596" stroke="#403939" stroke-width="1.0" fill="none" />
<line x1="351.6" y1="582.9" x2="372.4" y2="582.9" stroke="#9a9494" stroke-width="0.7" />
<line x1="351.6" y1="585.4" x2="372.4" y2="585.4" stroke="#5a4a4c" stroke-width="1.3" />
<line x1="351.6" y1="589.1" x2="372.4" y2="589.1" stroke="#5a4a4c" stroke-width="1.3" />
<line x1="351.6" y1="592.6" x2="372.4" y2="592.6" stroke="#5a4a4c" stroke-width="1.3" />
<line x1="362" y1="585.4" x2="362" y2="589.1" stroke="#5a4a4c" stroke-width="1.2" />
<line x1="362" y1="592.6" x2="362" y2="596" stroke="#5a4a4c" stroke-width="1.2" />
<path d="M355.2 578.3 L355.2 549.4 Q355.2 547.7 356.9 547.7 L400.6 547.7 L400.6 557.6 L370 557.6 Q367.4 557.6 367.4 560.2 L367.4 578.3" stroke="#403939" stroke-width="1.0" fill="none" />
<path d="M407.2 547.6 L442.4 547.6 M407.2 557.4 L442.4 557.4 M407.2 547.6 Q405.8 550 407 552.5 Q408.2 555 407.2 557.4" stroke="#403939" stroke-width="0.9" fill="none" />
<path d="M442.4 546.4 L451.4 545.2 L451.4 559.5 L442.4 558.3 Z" stroke="#403939" stroke-width="0.9" fill="none" />
<rect x="451.4" y="540.6" width="6.8" height="23.5" rx="0.8" stroke="#403939" stroke-width="0.9" fill="none"/>
<line x1="451.4" y1="549.4" x2="458.2" y2="549.4" stroke="#403939" stroke-width="0.7" />
<line x1="451.4" y1="554.6" x2="458.2" y2="554.6" stroke="#403939" stroke-width="0.7" />
<path d="M452.8 554.6 L452.8 557 Q452.8 559.6 454.9 559.6 Q457 559.6 457 557 L457 554.6" stroke="#403939" stroke-width="0.7" fill="none" />
<path d="M458.2 543.6 L476 541 M458.2 561.5 L476 563.7" stroke="#403939" stroke-width="0.9" fill="none" />
<line x1="472.4" y1="541.6" x2="472.4" y2="563.2" stroke="#9a9494" stroke-width="0.6" />
<rect x="476" y="537.2" width="12.2" height="31.3" rx="1" stroke="#403939" stroke-width="1.0" fill="none"/>
<line x1="476.4" y1="538.6" x2="487.8" y2="538.6" stroke="#403939" stroke-width="0.8" />
<line x1="476.4" y1="561" x2="487.8" y2="561" stroke="#403939" stroke-width="0.8" />
<line x1="476.4" y1="540.35" x2="487.8" y2="540.35" stroke="#403939" stroke-width="0.8" />
<line x1="476.4" y1="562.75" x2="487.8" y2="562.75" stroke="#403939" stroke-width="0.8" />
<line x1="476.4" y1="542.1" x2="487.8" y2="542.1" stroke="#403939" stroke-width="0.8" />
<line x1="476.4" y1="564.5" x2="487.8" y2="564.5" stroke="#403939" stroke-width="0.8" />
<line x1="476.4" y1="543.85" x2="487.8" y2="543.85" stroke="#403939" stroke-width="0.8" />
<line x1="476.4" y1="566.25" x2="487.8" y2="566.25" stroke="#403939" stroke-width="0.8" />
<line x1="476.4" y1="545.6" x2="487.8" y2="545.6" stroke="#403939" stroke-width="0.8" />
<line x1="476.4" y1="568" x2="487.8" y2="568" stroke="#403939" stroke-width="0.8" />
<line x1="476" y1="547.6" x2="488.2" y2="547.6" stroke="#403939" stroke-width="0.7" />
<line x1="476" y1="552.2" x2="488.2" y2="552.2" stroke="#403939" stroke-width="0.7" />
<line x1="476" y1="553.4" x2="488.2" y2="553.4" stroke="#403939" stroke-width="0.7" />
<line x1="476" y1="558.2" x2="488.2" y2="558.2" stroke="#403939" stroke-width="0.7" />
<line x1="478.2" y1="545.2" x2="478.2" y2="561" stroke="#403939" stroke-width="0.7" />
<line x1="486" y1="545.2" x2="486" y2="561" stroke="#403939" stroke-width="0.7" />
<path d="M488.2 541.4 L495.1 541.4 L495.1 563.7 L488.2 563.7" stroke="#403939" stroke-width="0.9" fill="none" />
<line x1="488.2" y1="541.8" x2="495.1" y2="541.8" stroke="#403939" stroke-width="1.4" />
<line x1="488.2" y1="563.3" x2="495.1" y2="563.3" stroke="#403939" stroke-width="1.4" />
<path d="M482.9 545.2 L482.9 531.1 L547 531.1" stroke="#403939" stroke-width="0.8" fill="none" />
<g transform="translate(558.5 541.1)" fill="#2d2b2f"><title>航空接头:</title>
<text transform="translate(0 1.5) scale(0.88 1)" font-size="20.6" font-family="'Liberation Serif', 'Noto Serif CJK SC', serif" stroke="#2d2b2f" stroke-width="0.3">航空接头</text>
<text transform="translate(72.51 0) scale(1.0 1)" font-size="18.6" stroke="#2d2b2f" stroke-width="0.25" xml:space="preserve">:</text>
</g>
<g transform="translate(643.6 541.1)" fill="#2d2b2f"><title>24M-6J\24J6TQ</title>
<text transform="translate(0 0) scale(0.985 1)" font-size="18.6" stroke="#2d2b2f" stroke-width="0.25" xml:space="preserve">24M-6J\24J6TQ</text>
</g>
<line x1="344.6" y1="549" x2="432.3" y2="518.6" stroke="#403939" stroke-width="0.8" />
<polygon points="344.6,549 352.07,544.61 353.19,547.82" fill="#2f2b2b"/>
<polygon points="432.3,518.6 424.83,522.99 423.71,519.78" fill="#2f2b2b"/>
<line x1="343.9" y1="547" x2="355" y2="578.4" stroke="#403939" stroke-width="0.8" />
<line x1="431.6" y1="516.6" x2="442.4" y2="546.4" stroke="#403939" stroke-width="0.8" />
<g transform="translate(384.9 528.5) rotate(-19.12)" fill="#2d2b2f"><title>2-1500</title>
<text transform="translate(-27.66 0) scale(1.05 1)" font-size="18.6" stroke="#2d2b2f" stroke-width="0.25" xml:space="preserve">2-1500</text>
</g>
</g>
</svg>
</body></html>
